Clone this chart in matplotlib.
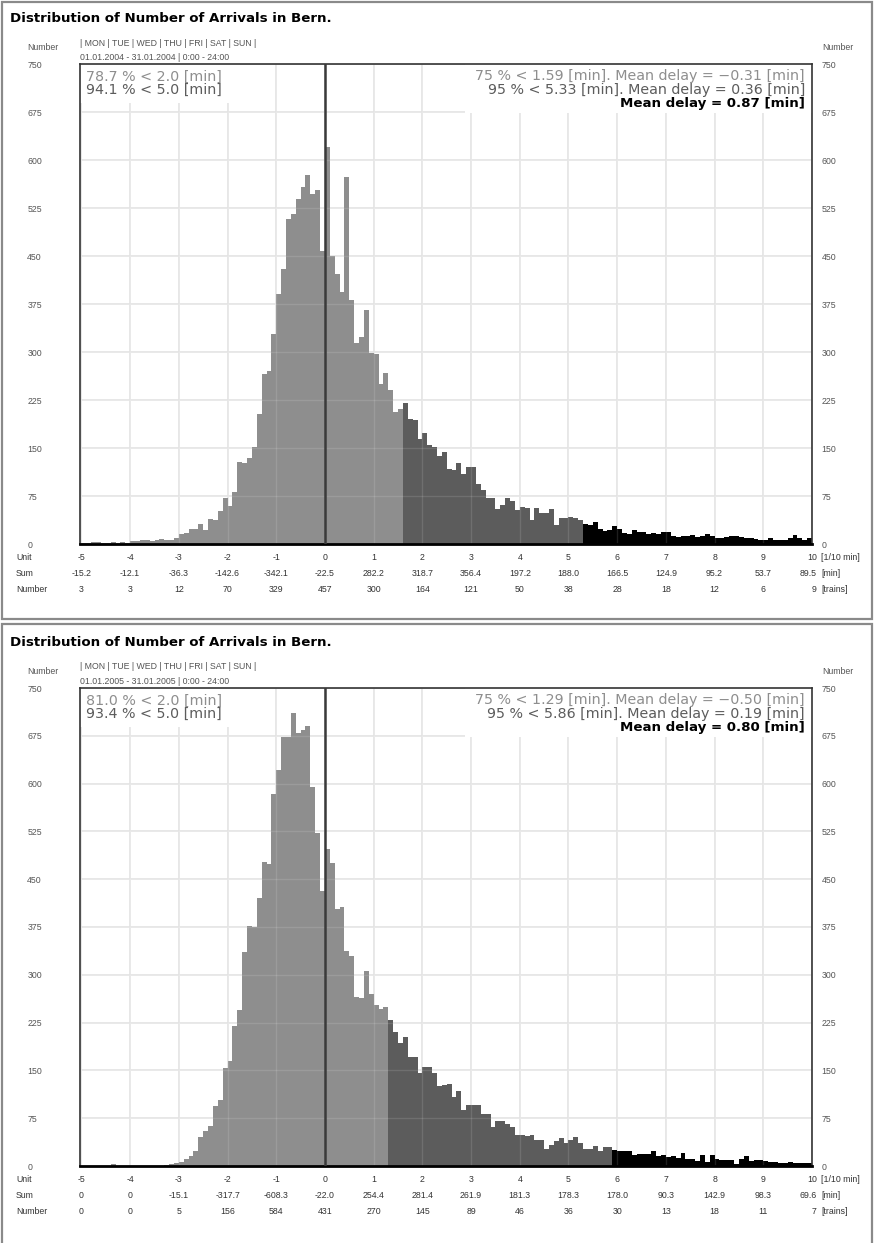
import matplotlib
matplotlib.use("Agg")
import matplotlib.pyplot as plt
import matplotlib.transforms as mtransforms
from matplotlib.patches import Rectangle
import numpy as np

W, H = 874, 1243

# left edges of the 0.1 min bins, -5.0 ... 9.9
bin_left = np.round(np.arange(-5.0, 10.0, 0.1), 1)

counts_2004 = [2, 2, 3, 3, 2, 2, 3, 2, 3, 2,
               5, 4, 6, 7, 5, 6, 8, 6, 7, 9,
               15, 17, 23, 24, 31, 22, 39, 37, 52, 72,
               60, 81, 128, 126, 135, 152, 203, 266, 271, 328,
               391, 430, 508, 516, 539, 558, 576, 547, 553, 458,
               621, 450, 422, 393, 573, 381, 314, 323, 366, 299,
               297, 250, 267, 241, 206, 211, 221, 195, 193, 164,
               174, 154, 151, 137, 144, 117, 115, 126, 110, 121,
               120, 94, 84, 72, 72, 54, 61, 72, 67, 53,
               58, 57, 38, 56, 49, 48, 54, 29, 40, 41,
               42, 40, 37, 32, 29, 35, 24, 21, 22, 28,
               24, 17, 16, 22, 18, 18, 15, 17, 16, 18,
               19, 12, 11, 13, 13, 14, 11, 12, 15, 13,
               10, 10, 11, 12, 12, 11, 10, 9, 8, 7,
               7, 9, 7, 6, 7, 9, 14, 10, 7, 10]

counts_2005 = [0, 0, 0, 0, 0, 0, 3, 0, 0, 0,
               0, 0, 0, 0, 0, 0, 0, 2, 3, 5,
               7, 11, 16, 24, 46, 55, 63, 94, 103, 154,
               165, 220, 244, 336, 376, 375, 420, 477, 474, 583,
               621, 673, 673, 711, 679, 684, 690, 595, 522, 431,
               498, 475, 404, 406, 337, 329, 265, 264, 306, 270,
               252, 247, 249, 229, 210, 193, 202, 171, 171, 146,
               155, 155, 146, 126, 127, 128, 108, 117, 88, 96,
               96, 95, 82, 82, 61, 71, 71, 66, 61, 49,
               48, 47, 48, 41, 41, 26, 33, 39, 44, 36,
               41, 45, 36, 27, 27, 31, 23, 30, 30, 25,
               23, 23, 23, 18, 19, 19, 19, 23, 16, 17,
               14, 16, 13, 20, 11, 11, 8, 18, 7, 17,
               11, 9, 9, 10, 3, 11, 15, 8, 9, 9,
               8, 7, 6, 5, 4, 6, 5, 5, 5, 5]

units = list(range(-5, 11))
sum_2004 = [-15.2, -12.1, -36.3, -142.6, -342.1, -22.5, 282.2, 318.7,
            356.4, 197.2, 188.0, 166.5, 124.9, 95.2, 53.7, 89.5]
trains_2004 = [3, 3, 12, 70, 329, 457, 300, 164, 121, 50, 38, 28, 18, 12, 6, 9]
sum_2005 = [0, 0, -15.1, -317.7, -608.3, -22.0, 254.4, 281.4,
            261.9, 181.3, 178.3, 178.0, 90.3, 142.9, 98.3, 69.6]
trains_2005 = [0, 0, 5, 156, 584, 431, 270, 145, 89, 46, 36, 30, 13, 18, 11, 7]

p75 = [1.59, 1.29]
p95 = [5.33, 5.86]
mean75 = ["−0.31", "−0.50"]
mean95 = ["0.36", "0.19"]
mean_all = ["0.87", "0.80"]
share2 = ["78.7", "81.0"]
share5 = ["94.1", "93.4"]
dates = ["01.01.2004 - 31.01.2004 | 0:00 - 24:00",
         "01.01.2005 - 31.01.2005 | 0:00 - 24:00"]

LIGHT, DARK = "#8e8e8e", "#5c5c5c"
TXT = "#555555"
SMALL = 6.3
STAT = 10.3


def fx(px):
    return px / W


def fy(py):
    return 1 - py / H


fig = plt.figure(figsize=(W / 100, H / 100), dpi=100)
fig.patch.set_facecolor("white")


def panel(i, counts, sums, trains, top, bottom, box_top, box_bottom):
    fig.patches.append(Rectangle((fx(2), fy(box_bottom)), fx(870), (box_bottom - box_top) / H,
                                 transform=fig.transFigure, fill=False,
                                 edgecolor="#8a8a8a", lw=1.6))
    fig.text(fx(10), fy(top - 46), "Distribution of Number of Arrivals in Bern.",
             fontsize=9.6, fontweight="bold", ha="left", va="center")
    fig.text(fx(80), fy(top - 21), "| MON | TUE | WED | THU | FRI | SAT | SUN |",
             fontsize=SMALL, color=TXT, ha="left", va="center", family="Liberation Sans")
    fig.text(fx(80), fy(top - 7), dates[i],
             fontsize=SMALL, color=TXT, ha="left", va="center", family="Liberation Sans")
    for xp in (27, 822):
        fig.text(fx(xp), fy(top - 16), "Number", fontsize=SMALL, color=TXT,
                 ha="left", va="center", family="Liberation Sans")

    ax = fig.add_axes([fx(80), fy(bottom), fx(812) - fx(80), (bottom - top) / H])
    lo, hi = round(p75[i], 1), round(p95[i], 1)
    colors = [LIGHT if b < lo - 1e-9 else (DARK if b < hi - 1e-9 else "black")
              for b in bin_left]
    ax.bar(bin_left, counts, width=0.1, align="edge", color=colors, lw=0, zorder=2)
    ax.axvline(0, color="#3a3a3a", lw=1.8, zorder=3)

    ax.set_xlim(-5.03, 10)
    ax.set_ylim(0, 750)
    ax.set_xticks(units)
    ax.set_xticklabels([])
    ax.set_yticks(np.arange(0, 751, 75))
    ax.grid(True, color="#e3e3e3", lw=1.2)
    ax.set_axisbelow(True)
    # faint grid showing through the bars
    ax.vlines(units[1:-1], 0, 750, color="white", lw=1.0, alpha=0.12, zorder=2.5)
    ax.hlines(np.arange(75, 750, 75), -5.03, 10, color="white", lw=1.0, alpha=0.12, zorder=2.5)

    ax.tick_params(axis="both", length=0)
    ax.tick_params(axis="y", labelsize=SMALL, labelcolor=TXT, pad=38)
    plt.setp(ax.get_yticklabels(), ha="left", family="Liberation Sans")
    sec = ax.secondary_yaxis("right")
    sec.set_yticks(np.arange(0, 751, 75))
    sec.tick_params(length=0, labelsize=SMALL, labelcolor=TXT, pad=7)
    plt.setp(sec.get_yticklabels(), family="Liberation Sans")
    sec.spines["right"].set_visible(False)

    for s in ax.spines.values():
        s.set_color("#333333")
        s.set_linewidth(1.2)
    ax.spines["bottom"].set_color("black")
    ax.spines["bottom"].set_linewidth(2)

    # white boxes behind the statistics
    ax.add_patch(Rectangle((0, 1 - (39 / (bottom - top))), 0.219, 39 / (bottom - top),
                           transform=ax.transAxes, color="white", lw=0, zorder=1))
    ax.add_patch(Rectangle((0.526, 1 - (49 / (bottom - top))), 0.474, 49 / (bottom - top),
                           transform=ax.transAxes, color="white", lw=0, zorder=1))

    fig.text(fx(86), fy(top + 13), f"{share2[i]} % < 2.0 [min]", fontsize=STAT,
             color=LIGHT, ha="left", va="center")
    fig.text(fx(86), fy(top + 26), f"{share5[i]} % < 5.0 [min]", fontsize=STAT,
             color=DARK, ha="left", va="center")
    fig.text(fx(805), fy(top + 12),
             f"75 % < {p75[i]:.2f} [min]. Mean delay = {mean75[i]} [min]",
             fontsize=STAT, color=LIGHT, ha="right", va="center")
    fig.text(fx(805), fy(top + 26),
             f"95 % < {p95[i]:.2f} [min]. Mean delay = {mean95[i]} [min]",
             fontsize=STAT, color=DARK, ha="right", va="center")
    fig.text(fx(805), fy(top + 40), f"Mean delay = {mean_all[i]} [min]",
             fontsize=9.6, color="black", fontweight="bold", ha="right", va="center")

    # table under the axis
    tr = mtransforms.blended_transform_factory(ax.transData, fig.transFigure)
    rows = [("Unit", [str(u) for u in units], "[1/10 min]"),
            ("Sum", ["0" if v == 0 else f"{v:.1f}" for v in sums], "[min]"),
            ("Number", [str(v) for v in trains], "[trains]")]
    for r, (name, vals, unit) in enumerate(rows):
        yp = bottom + 14 + 15.5 * r
        fig.text(fx(16), fy(yp), name, fontsize=SMALL, color="#333333",
                 ha="left", va="center", family="Liberation Sans")
        for u, v in zip(units, vals):
            last = u == units[-1]
            ax.text(10.1 if last else u, fy(yp), v, transform=tr, fontsize=SMALL,
                    color="#333333", ha="right" if last else "center", va="center",
                    family="Liberation Sans", clip_on=False)
        fig.text(fx(821), fy(yp), unit, fontsize=SMALL, color="#333333",
                 ha="left", va="center", family="Liberation Sans")


panel(0, counts_2004, sum_2004, trains_2004, 64, 544, 2, 619)
panel(1, counts_2005, sum_2005, trains_2005, 688, 1166, 624, 1250)

fig.savefig("out.png", dpi=100)
